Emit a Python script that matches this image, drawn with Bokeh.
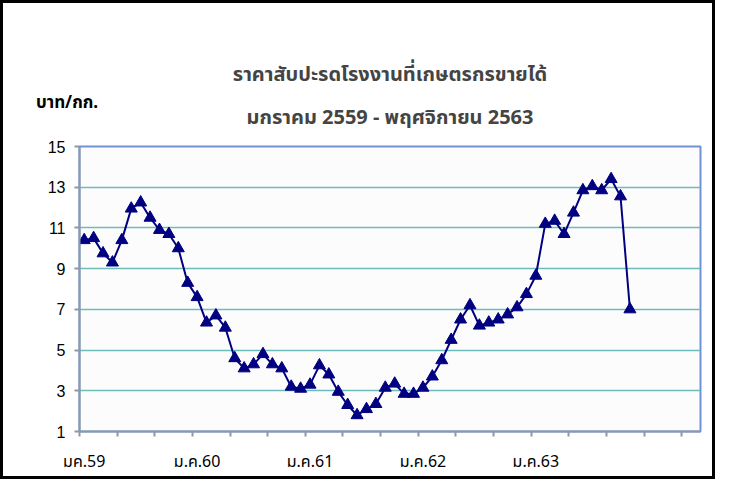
from bokeh.plotting import figure
from bokeh.models import Range1d, FixedTicker, LinearAxis, Title, Div
from bokeh.layouts import column
from bokeh.embed import file_html
from bokeh.resources import INLINE
import numpy as np

# ---- data (monthly farm-gate price, baht/kg, Jan 2559 - Nov 2563) ----
prices_2559 = [10.4, 10.5, 9.75, 9.3, 10.4, 11.95, 12.25, 11.5, 10.9, 10.7, 10.0, 8.3]
prices_2560 = [7.6, 6.35, 6.7, 6.1, 4.6, 4.1, 4.3, 4.8, 4.3, 4.1, 3.2, 3.1]
prices_2561 = [3.3, 4.25, 3.8, 2.95, 2.3, 1.8, 2.1, 2.35, 3.15, 3.35, 2.85, 2.85]
prices_2562 = [3.15, 3.7, 4.5, 5.5, 6.5, 7.2, 6.2, 6.35, 6.5, 6.75, 7.1, 7.75]
prices_2563 = [8.65, 11.2, 11.35, 10.7, 11.75, 12.85, 13.05, 12.85, 13.4, 12.55, 7.0]

x_tick_labels = ["มค.59", "ม.ค.60", "ม.ค.61", "ม.ค.62", "ม.ค.63"]
x_label_months = [0, 12, 24, 36, 48]
y_ticks = [1, 3, 5, 7, 9, 11, 13, 15]
n_categories = 66

title_line1 = "ราคาสับปะรดโรงงานที่เกษตรกรขายได้"
title_line2 = "มกราคม 2559 - พฤศจิกายน 2563"
y_unit = "บาท/กก."

prices = prices_2559 + prices_2560 + prices_2561 + prices_2562 + prices_2563
xs = np.arange(len(prices)) + 0.5

THAI = "Tahoma, 'Noto Sans Thai', 'Noto Sans', sans-serif"

p = figure(width=715, height=479, output_backend="svg", toolbar_location=None,
           x_range=Range1d(0, n_categories), y_range=Range1d(1, 15),
           min_border_left=79, min_border_right=15, min_border_top=146,
           min_border_bottom=48, background_fill_color="#fcfcfc",
           border_fill_color=None, x_axis_type=None)
p.styles = {"outline": "3px solid black", "outline-offset": "-3px",
            "background-color": "white"}

p.outline_line_color = "#6f93d2"
p.outline_line_width = 2

# y axis
p.yaxis.ticker = FixedTicker(ticks=y_ticks)
p.yaxis.axis_line_color = "#8e99a5"
p.yaxis.axis_line_width = 2
p.yaxis.major_tick_line_color = "#8e99a5"
p.yaxis.major_tick_line_width = 2
p.yaxis.major_tick_out = 5
p.yaxis.major_tick_in = 0
p.yaxis.minor_tick_line_color = None
p.yaxis.major_label_text_font = "Liberation Sans"
p.yaxis.major_label_text_font_size = "16px"
p.yaxis.major_label_text_color = "black"
p.yaxis.major_label_standoff = 9

# grid
p.xgrid.grid_line_color = None
p.ygrid.ticker = FixedTicker(ticks=y_ticks[1:-1])
p.ygrid.grid_line_color = "#6dbcbc"
p.ygrid.grid_line_width = 1.5

# x axis: labels centred on January categories, tick marks every 4 months
lab_pos = [m + 0.5 for m in x_label_months]
xaxis = LinearAxis(ticker=FixedTicker(ticks=lab_pos,
                                      minor_ticks=list(range(0, n_categories, 4))))
xaxis.major_label_overrides = {pos: lab for pos, lab in zip(lab_pos, x_tick_labels)}
xaxis.axis_line_color = "#8e99a5"
xaxis.axis_line_width = 2
xaxis.major_tick_line_color = None
xaxis.major_tick_out = 5
xaxis.major_tick_in = 0
xaxis.minor_tick_line_color = "#8e99a5"
xaxis.minor_tick_line_width = 2
xaxis.minor_tick_out = 5
xaxis.minor_tick_in = 0
xaxis.major_label_text_font = THAI
xaxis.major_label_text_font_size = "16px"
xaxis.major_label_text_color = "black"
xaxis.major_label_standoff = 13
p.add_layout(xaxis, "below")

# series
p.line(xs, prices, line_color="#000080", line_width=2)
p.scatter(xs, prices, marker="triangle", size=12, fill_color="#000080",
          line_color="#000080")

# titles (stacked outward from the frame)
p.add_layout(Title(text=title_line2, text_font=THAI, text_font_size="20px",
                   text_font_style="bold", align="center", vertical_align="top",
                   standoff=23), "above")
p.add_layout(Title(text=title_line1, text_font=THAI, text_font_size="20px",
                   text_font_style="bold", align="center", vertical_align="top",
                   standoff=0), "above")

# unit text (baht/kg), overlaid at the top-left of the chart
unit_div = Div(text=y_unit, margin=(-388, 0, 364, 36),
               styles={"font-family": THAI, "font-size": "17px",
                       "font-weight": "bold", "color": "black",
                       "line-height": "24px", "position": "relative",
                       "z-index": "5"})

layout = column(p, unit_div, spacing=0)

open("out.html", "w").write(file_html(layout, INLINE))
